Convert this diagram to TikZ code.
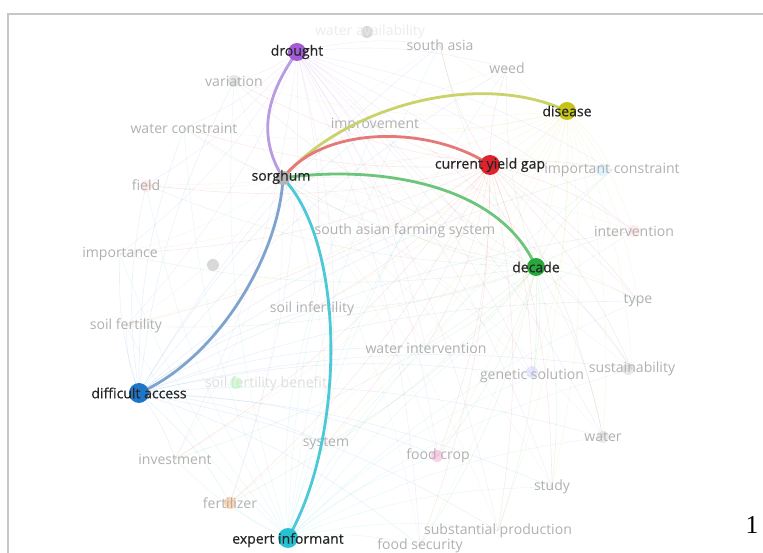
\documentclass[tikz,border=0pt]{standalone}
\usepackage{fontspec}
\setmainfont{Open Sans}
\newfontfamily\termfont{Open Sans}[FakeBold=0.6]
\newfontfamily\pagefont{Liberation Serif}
\usepackage{tikz}
\usetikzlibrary{arrows.meta,positioning,calc}
\definecolor{cdrought}{HTML}{A45BD6}
\definecolor{cdisease}{HTML}{C6C41A}
\definecolor{cgap}{HTML}{E0222C}
\definecolor{cdecade}{HTML}{27A83A}
\definecolor{caccess}{HTML}{1F76C6}
\definecolor{cinformant}{HTML}{27C2D2}
\definecolor{csorghum}{HTML}{B4B4B4}
\definecolor{edrought}{HTML}{B99BE0}
\definecolor{edisease}{HTML}{C9D36A}
\definecolor{egap}{HTML}{E57878}
\definecolor{edecade}{HTML}{6CC57A}
\definecolor{eaccess}{HTML}{7FA3CC}
\definecolor{einformant}{HTML}{4CC9D6}
% faint terms: name/x/y/text
\newcommand{\faintterms}{sasia/440/45/south asia, weed/507/68/weed,
  variation/234/81/variation, wconstr/184/128/water constraint,
  improv/375/125/improvement, field/146/185/field,
  impconstr/612/170/important constraint,
  safarm/405/231/south asian farming system, interv/634/231/intervention,
  importance/120/254/importance, type/638/301/type,
  soilinf/312/309/soil infertility, soilfert/126/326/soil fertility,
  waterint/426/348/water intervention, genetic/532/376/genetic solution,
  sustain/632/369/sustainability, water/603/437/water,
  invest/175/459/investment, system/326/444/system,
  foodcrop/438/456/food crop, study/552/487/study,
  fertil/230/503/fertilizer, subprod/498/531/substantial production,
  foodsec/420/546/food security}

\begin{document}
\begin{tikzpicture}[x=0.3mm, y=-0.3mm,
  lbl/.style={font=\termfont\fontsize{12}{14}\selectfont, text=black!85, inner sep=0pt},
  faint/.style={font=\fontsize{12}{14}\selectfont, text=black!31, inner sep=0pt},
  tie/.style={line width=2.4pt, line cap=round},
  haze/.style={line width=0.5pt, opacity=0.1}]
  \useasboundingbox (0,0) rectangle (763,553);
  % frame
  \draw[black!22, line width=1.8pt] (8,553) -- (8,14) -- (763,14);
  % main terms
  \coordinate (sorghum) at (283,178);
  \coordinate (drought) at (297,52);
  \coordinate (disease) at (567,111);
  \coordinate (gap) at (490,165);
  \coordinate (decade) at (536,267);
  \coordinate (access) at (139,393);
  \coordinate (informant) at (288,538);
  % faint terms
  \foreach \n/\x/\y/\t in \faintterms
    \coordinate (\n) at (\x,\y);
  % background links
  \foreach \m/\c in {sorghum/csorghum, drought/cdrought, disease/cdisease,
      gap/cgap, decade/cdecade, access/caccess, informant/cinformant}
    \foreach \n/\x/\y/\t in \faintterms
      \draw[haze, \c] (\m) to[bend left=10] (\n);
  % faint dots
  \foreach \p/\c in {{(146,186)}/pink, {(602,170)}/cyan!40, {(634,231)}/pink,
      {(213,265)}/gray, {(236,383)}/green!60, {(532,372)}/blue!30,
      {(230,503)}/orange, {(437,456)}/magenta!60, {(367,32)}/gray,
      {(234,81)}/gray!60, {(628,369)}/gray!60, {(603,437)}/gray!50}
    \fill[\c, opacity=0.3] \p circle (6);
  \node[faint, text=black!8] (wavail) at (370,32) {water availability};
  \node[faint, text=black!13] (benefit) at (266,384) {soil fertility benefit};
  \foreach \n/\x/\y/\t in \faintterms
    \node[faint] at (\n) {\t};
  % links from sorghum
  \draw[tie, edrought] (sorghum) .. controls +(-28,-45) and +(-28,40) .. (drought);
  \draw[tie, edisease] (sorghum) .. controls +(60,-70) and +(-90,-42) .. (disease);
  \draw[tie, egap] (sorghum) .. controls +(40,-53) and +(-60,-40) .. (gap);
  \draw[tie, edecade] (sorghum) .. controls +(80,-12) and +(-40,-90) .. (decade);
  \draw[tie, eaccess] (sorghum) .. controls +(-4,78) and +(78,-34) .. (access);
  \draw[tie, einformant] (sorghum) .. controls +(64,67) and +(57,-98) .. (informant);
  % dots
  \fill[csorghum] (sorghum) circle (7);
  \fill[cdrought] (drought) circle (9);
  \fill[cdisease] (disease) circle (9);
  \fill[cgap] (gap) circle (10);
  \fill[cdecade] (decade) circle (9);
  \fill[caccess] (access) circle (10);
  \fill[cinformant] (informant) circle (10);
  % labels
  \node[lbl] at (281,177) {sorghum};
  \node[lbl] at (drought) {drought};
  \node[lbl] at (disease) {disease};
  \node[lbl] at (gap) {current yield gap};
  \node[lbl] at (decade) {decade};
  \node[lbl] at (access) {difficult access};
  \node[lbl] at (288,540) {expert informant};
  % page number
  \node[font=\pagefont\fontsize{22}{24}\selectfont, inner sep=0pt] (page) at (752,525) {1};
\end{tikzpicture}
\end{document}
